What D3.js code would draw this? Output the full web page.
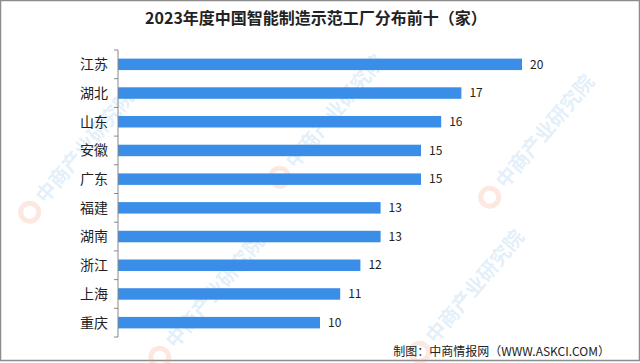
<!DOCTYPE html>
<html>
<head>
<meta charset="utf-8">
<script src="https://cdn.jsdelivr.net/npm/d3@7"></script>
<style>
  body { margin: 0; background: #fff; }
  text { font-family: "Noto Sans CJK SC", "Noto Sans", sans-serif; }
</style>
</head>
<body>
<div id="chart"></div>
<script>
var titleText = "2023年度中国智能制造示范工厂分布前十（家）";
var sourceText = "制图：中商情报网（WWW.ASKCI.COM）";
var provinces = ["江苏", "湖北", "山东", "安徽", "广东", "福建", "湖南", "浙江", "上海", "重庆"];
var factories = [20, 17, 16, 15, 15, 13, 13, 12, 11, 10];
var watermarkText = "中商产业研究院";

var W = 640, H = 363;
var svg = d3.select("#chart").append("svg")
    .attr("width", W).attr("height", H);

// frame
svg.append("rect")
    .attr("x", 0.5).attr("y", 0.5)
    .attr("width", W - 1).attr("height", H - 3)
    .style("fill", "#fff")
    .style("stroke", "#8c8c8c")
    .style("stroke-width", 1.5);

// watermarks (faint), kept inside the frame
var wm = svg.append("g").attr("class", "watermark");
var wmSpots = [[40, 200], [290, 165], [500, 185], [170, 345], [430, 340]];
wmSpots.forEach(function (p) {
  var g = wm.append("g").attr("transform", "translate(" + p[0] + "," + p[1] + ") rotate(-50)");
  g.append("circle").attr("cx", -16).attr("cy", 0).attr("r", 9)
      .style("fill", "none").style("stroke", "rgba(240,150,120,0.22)").style("stroke-width", 5);
  g.append("text").attr("x", 0).attr("y", 7)
      .style("font-size", "20px").style("font-weight", "bold")
      .style("fill", "rgba(110,170,225,0.2)")
      .text(watermarkText);
});

var x = d3.scaleLinear().domain([0, 20]).range([118, 522]);
var y = d3.scaleBand().domain(provinces).range([50, 337]).paddingInner(0.6).paddingOuter(0.3);

svg.append("text")
    .attr("x", 316).attr("y", 24)
    .style("text-anchor", "middle")
    .style("font-size", "16px")
    .style("font-weight", "bold")
    .style("fill", "#222")
    .text(titleText);

svg.append("g")
    .selectAll("rect")
    .data(factories)
    .enter()
    .append("rect")
    .attr("x", x(0))
    .attr("y", function (d, i) { return y(provinces[i]); })
    .attr("width", function (d) { return x(d) - x(0); })
    .attr("height", y.bandwidth())
    .style("fill", "#3a8ee8");

svg.append("g")
    .selectAll("text")
    .data(factories)
    .enter()
    .append("text")
    .attr("x", function (d) { return x(d) + 8; })
    .attr("y", function (d, i) { return y(provinces[i]) + y.bandwidth() / 2; })
    .attr("dy", "0.35em")
    .style("font-size", "12px")
    .style("fill", "#222")
    .text(function (d) { return d; });

// category axis with ticks between bands
var axisG = svg.append("g");
axisG.append("line")
    .attr("x1", x(0)).attr("x2", x(0))
    .attr("y1", 50).attr("y2", 337)
    .style("stroke", "#888");
var bounds = provinces.map(function (p) { return y(p) - y.step() * y.paddingInner() / 2; });
bounds.push(337);
bounds[0] = 50;
axisG.selectAll(".tick")
    .data(bounds)
    .enter()
    .append("line")
    .attr("x1", x(0) - 4).attr("x2", x(0))
    .attr("y1", function (d) { return d; })
    .attr("y2", function (d) { return d; })
    .style("stroke", "#888");
axisG.selectAll(".lab")
    .data(provinces)
    .enter()
    .append("text")
    .attr("x", 108)
    .attr("y", function (d) { return y(d) + y.bandwidth() / 2; })
    .attr("dy", "0.35em")
    .style("text-anchor", "end")
    .style("font-size", "14px")
    .style("fill", "#222")
    .text(function (d) { return d; });

svg.append("text")
    .attr("x", 610).attr("y", 356)
    .style("text-anchor", "end")
    .style("font-size", "12px")
    .style("fill", "#222")
    .text(sourceText);
</script>
</body>
</html>
